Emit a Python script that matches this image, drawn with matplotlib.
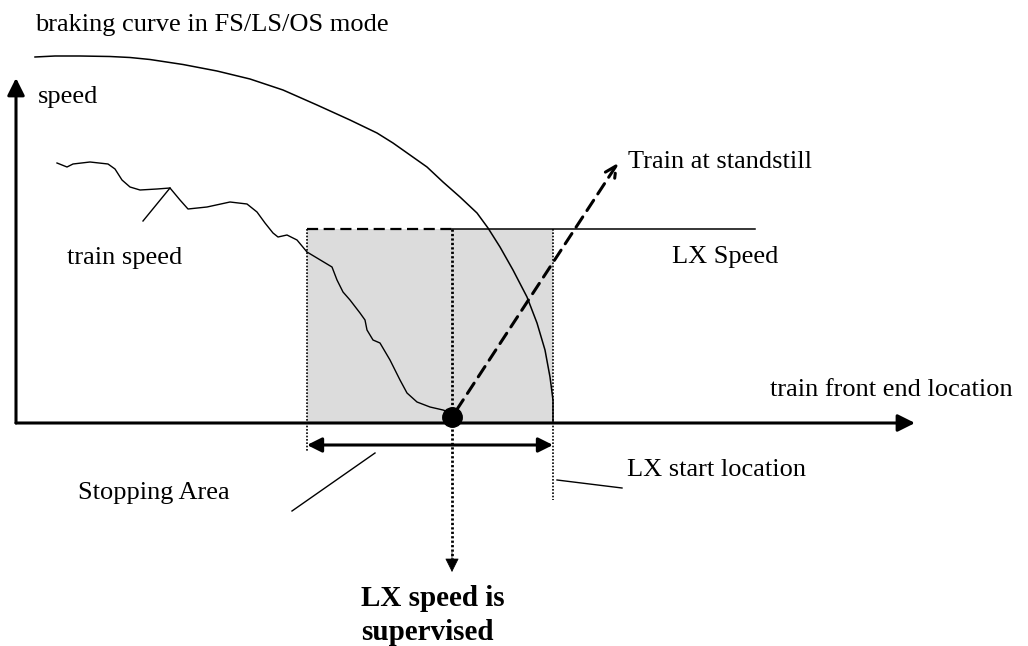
import matplotlib
matplotlib.use("Agg")
import matplotlib.pyplot as plt
from matplotlib.patches import Rectangle, FancyArrowPatch

# diagram coordinates (pixel-like units, y grows downward)
braking_x = [35, 55, 80, 110, 130, 150, 183, 217, 250, 283, 317, 350, 377, 393, 410, 427, 443, 460,
             477, 488, 500, 513, 527, 537, 545, 550, 553, 553]
braking_y = [57, 56, 56, 56.5, 57.5, 59.5, 64.5, 71, 79, 90, 105, 120, 133, 143, 155, 167, 182, 197,
             213, 228, 247, 270, 297, 323, 350, 377, 400, 423]

train_x = [57, 67, 73, 90, 108, 115, 122, 130, 140, 157, 170, 180, 188, 207, 230, 247, 257, 265, 273,
           278, 287, 297, 307, 317, 332, 337, 343, 350, 360, 365, 367, 373, 380, 390, 400, 407, 417,
           430, 443, 452]
train_y = [163, 167, 164, 162, 164, 169, 180, 187, 190, 189, 188, 200, 209, 207, 202, 204, 212, 223, 233,
           237, 235, 240, 252, 258, 267, 280, 292, 300, 313, 320, 330, 340, 343, 360, 380, 393, 402,
           407, 410, 413]

origin = (16, 423)
x_axis_end = 915
y_axis_end = 78
area_left, area_mid, area_right = 307, 452, 553
lx_speed_y = 229
lx_speed_end = 755
stop_point = (452, 417)
standstill_tip = (618, 163)

fig = plt.figure(figsize=(10.28, 6.46), dpi=100)
ax = fig.add_axes([0, 0, 1, 1])
ax.set_xlim(0, 1028)
ax.set_ylim(646, 0)
ax.axis("off")

serif = ["Liberation Serif", "DejaVu Serif"]
fs = 19

# stopping area shading
ax.add_patch(Rectangle((area_left, lx_speed_y), area_right - area_left, origin[1] - lx_speed_y,
                       facecolor="#dcdcdc", edgecolor="none", zorder=0))

# axes with arrows
ax.add_patch(FancyArrowPatch(origin, (x_axis_end, origin[1]), arrowstyle="-|>", mutation_scale=26,
                             color="black", lw=2.2, shrinkA=0, shrinkB=0, zorder=3))
ax.add_patch(FancyArrowPatch(origin, (origin[0], y_axis_end), arrowstyle="-|>", mutation_scale=26,
                             color="black", lw=2.2, shrinkA=0, shrinkB=0, zorder=3))

# braking curve and train speed
ax.plot(braking_x, braking_y, color="black", lw=1.1, zorder=2)
ax.plot(train_x, train_y, color="black", lw=1.0, zorder=2)

# LX speed line (dashed over the area, solid after)
ax.plot([area_left, area_mid], [lx_speed_y, lx_speed_y], color="black", lw=1.6,
        dashes=(5, 2.5), zorder=2)
ax.plot([area_mid, lx_speed_end], [lx_speed_y, lx_speed_y], color="black", lw=1.1, zorder=2)

# dotted verticals
ax.plot([area_left, area_left], [lx_speed_y, 452], color="black", lw=1.2, ls=(0, (1, 1)), zorder=2)
ax.plot([area_right, area_right], [lx_speed_y, 500], color="black", lw=1.2, ls=(0, (1, 1)), zorder=2)
ax.plot([area_mid, area_mid], [lx_speed_y, 560], color="black", lw=2.0, ls=(0, (0.8, 0.8)), zorder=2)
ax.add_patch(FancyArrowPatch((area_mid, 552), (area_mid, 572), arrowstyle="-|>", mutation_scale=22,
                             color="black", lw=0.5, shrinkA=0, shrinkB=0, zorder=3))

# stopping area double arrow
ax.add_patch(FancyArrowPatch((area_left, 445), (area_right, 445), arrowstyle="<|-|>", mutation_scale=22,
                             color="black", lw=2.2, shrinkA=0, shrinkB=0, zorder=3))

# train at standstill dashed arrow
ax.add_patch(FancyArrowPatch(stop_point, standstill_tip, arrowstyle="->", mutation_scale=20,
                             color="black", lw=2.2, linestyle=(0, (4, 2.5)), shrinkA=6, shrinkB=0, zorder=3))
ax.plot(*stop_point, "o", color="black", markersize=14, zorder=4)

# pointer lines
ax.plot([170, 143], [188, 221], color="black", lw=1.0)
ax.plot([375, 292], [453, 511], color="black", lw=1.0)
ax.plot([557, 622], [480, 488], color="black", lw=1.0)

# labels
ax.text(35, 25, "braking curve in FS/LS/OS mode", fontsize=fs, family=serif, va="center")
ax.text(38, 97, "speed", fontsize=fs, family=serif, va="center")
ax.text(67, 258, "train speed", fontsize=fs, family=serif, va="center")
ax.text(78, 493, "Stopping Area", fontsize=fs, family=serif, va="center")
ax.text(628, 162, "Train at standstill", fontsize=fs, family=serif, va="center")
ax.text(672, 257, "LX Speed", fontsize=fs, family=serif, va="center")
ax.text(770, 390, "train front end location", fontsize=fs, family=serif, va="center")
ax.text(627, 470, "LX start location", fontsize=fs, family=serif, va="center")
ax.text(361, 598, "LX speed is", fontsize=21, family=serif, weight="bold", va="center")
ax.text(361, 632, "supervised", fontsize=21, family=serif, weight="bold", va="center")

fig.savefig("out.png", dpi=100)
plt.close(fig)
